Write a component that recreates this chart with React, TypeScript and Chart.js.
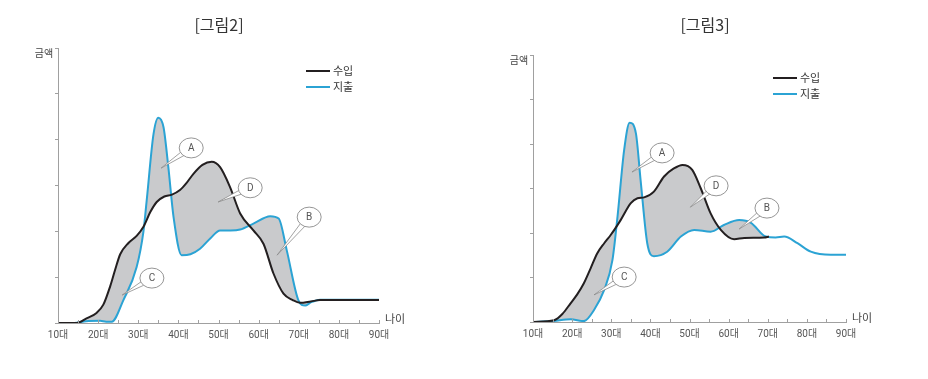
import { useEffect, useRef } from "react";
import { Chart, registerables } from "chart.js";

Chart.register(...registerables);

// ---------- data ----------
const AGE_MIN = 10;
const AGE_MAX = 90;
const AGE_TICK_STEP = 5;
const AMOUNT_MAX = 6;

const SERIES_LABELS = ["수입", "지출"];
const FIG_TITLES = ["[그림2]", "[그림3]"];
const AXIS_Y_TITLE = "금액";
const AXIS_X_TITLE = "나이";

// [그림2]
const FIG2_INCOME_AGES = [10, 14.6, 17.1, 19.6, 21.3, 23, 24.2, 25.5, 27.5, 29.6, 31.3, 33, 34.6, 36.5, 38.4, 40.4, 42, 43.7, 46, 48.3, 50.4, 52.9, 55.4, 58.7, 61.2, 63.7, 66.2, 68.5, 70.3, 73, 75.3, 80, 90];
const FIG2_INCOME = [0, 0, 0.1, 0.22, 0.4, 0.8, 1.15, 1.5, 1.74, 1.9, 2.1, 2.42, 2.64, 2.76, 2.8, 2.9, 3.05, 3.25, 3.45, 3.52, 3.4, 2.96, 2.39, 2.02, 1.73, 1.08, 0.64, 0.5, 0.44, 0.47, 0.5, 0.5, 0.5];
const FIG2_EXPENSE_AGES = [10, 14, 17, 20.5, 22, 23.4, 26.3, 29.6, 31.3, 32.1, 33.8, 35, 36.3, 37.5, 38.8, 40.8, 43, 45.4, 48, 50.4, 53, 55.4, 58.7, 62.9, 65, 67, 69.9, 71.6, 73, 75.3, 80, 90];
const FIG2_EXPENSE = [0, 0, 0.04, 0.05, 0.03, 0.03, 0.5, 1.22, 2.0, 2.67, 4.12, 4.48, 4.27, 3.4, 2.31, 1.48, 1.5, 1.62, 1.85, 2.02, 2.02, 2.04, 2.17, 2.33, 2.28, 1.59, 0.5, 0.38, 0.45, 0.51, 0.51, 0.51];

// [그림3]
const FIG3_INCOME_AGES = [10, 15.4, 17.5, 19.6, 21.3, 23, 24.7, 26.4, 28.2, 29.9, 32.4, 35, 36.7, 38.4, 40.9, 43.5, 46, 48.2, 50.7, 52.9, 55.4, 58, 61.4, 64, 69.1, 70.3];
const FIG3_INCOME = [0, 0.04, 0.18, 0.42, 0.62, 0.87, 1.2, 1.54, 1.77, 1.96, 2.29, 2.67, 2.78, 2.8, 2.93, 3.27, 3.45, 3.53, 3.42, 3.0, 2.44, 2.07, 1.86, 1.89, 1.9, 1.92];
const FIG3_EXPENSE_AGES = [10, 15, 19.6, 23, 25.6, 28.2, 30.3, 31.6, 33.3, 34.7, 36.3, 37.5, 39.2, 40.9, 44.3, 47.8, 51.2, 55.4, 58.8, 62.7, 65.7, 69.5, 72, 74.2, 77.6, 81, 86.1, 90];
const FIG3_EXPENSE = [0, 0.02, 0.06, 0.02, 0.27, 0.72, 1.39, 2.37, 3.87, 4.48, 4.24, 3.19, 1.77, 1.48, 1.58, 1.92, 2.07, 2.03, 2.18, 2.29, 2.23, 1.92, 1.9, 1.92, 1.77, 1.58, 1.51, 1.51];

// callouts (data coordinates)
const CALLOUT_LETTERS = ["A", "D", "B", "C"];
const FIG2_CALLOUT_TIP_AGES = [35.7, 49.9, 64.6, 26];
const FIG2_CALLOUT_TIP_VALUES = [3.38, 2.64, 1.48, 0.61];
const FIG2_CALLOUT_BUBBLE_AGES = [43.2, 57.9, 72.6, 33.4];
const FIG2_CALLOUT_BUBBLE_VALUES = [3.82, 2.95, 2.31, 0.98];
const FIG3_CALLOUT_TIP_AGES = [35.3, 50.2, 62.7, 25.6];
const FIG3_CALLOUT_TIP_VALUES = [3.37, 2.58, 2.09, 0.61];
const FIG3_CALLOUT_BUBBLE_AGES = [43.0, 56.8, 69.8, 33.3];
const FIG3_CALLOUT_BUBBLE_VALUES = [3.8, 3.06, 2.56, 1.01];

// ---------- styles ----------
const INCOME_COLOR = "#231f20";
const EXPENSE_COLOR = "#2ba3d4";
const FILL_COLOR = "#c9cacc";
const AXIS_COLOR = "#a0a0a0";
const TEXT_COLOR = "#444";
const FONT = '"Roboto", "Noto Sans CJK KR", sans-serif';
const KFONT = '"Noto Sans CJK KR", "Roboto", sans-serif';

type Panel = {
  title: string;
  left: number;
  area: { left: number; right: number; top: number; bottom: number };
  titleX: number;
  incomeAges: number[];
  income: number[];
  expenseAges: number[];
  expense: number[];
  tipAges: number[];
  tipValues: number[];
  bubbleAges: number[];
  bubbleValues: number[];
};

const W = 464;
const H = 379;

const PANELS: Panel[] = [
  {
    title: FIG_TITLES[0],
    left: 0,
    area: { left: 58, right: 379, top: 48, bottom: 323 },
    titleX: 219,
    incomeAges: FIG2_INCOME_AGES,
    income: FIG2_INCOME,
    expenseAges: FIG2_EXPENSE_AGES,
    expense: FIG2_EXPENSE,
    tipAges: FIG2_CALLOUT_TIP_AGES,
    tipValues: FIG2_CALLOUT_TIP_VALUES,
    bubbleAges: FIG2_CALLOUT_BUBBLE_AGES,
    bubbleValues: FIG2_CALLOUT_BUBBLE_VALUES,
  },
  {
    title: FIG_TITLES[1],
    left: 464,
    area: { left: 69, right: 382, top: 55, bottom: 322 },
    titleX: 241,
    incomeAges: FIG3_INCOME_AGES,
    income: FIG3_INCOME,
    expenseAges: FIG3_EXPENSE_AGES,
    expense: FIG3_EXPENSE,
    tipAges: FIG3_CALLOUT_TIP_AGES,
    tipValues: FIG3_CALLOUT_TIP_VALUES,
    bubbleAges: FIG3_CALLOUT_BUBBLE_AGES,
    bubbleValues: FIG3_CALLOUT_BUBBLE_VALUES,
  },
];

function zip(xs: number[], ys: number[]) {
  return xs.map((x, i) => ({ x, y: ys[i] }));
}

function PanelChart({ p }: { p: Panel }) {
  const ref = useRef<HTMLCanvasElement | null>(null);

  useEffect(() => {
    const canvas = ref.current;
    if (!canvas) return;

    const decor = {
      id: "decor",
      afterDatasetsDraw(chart: any) {
        const { ctx, scales } = chart;
        const xs = scales.x;
        const ys = scales.y;
        ctx.save();
        for (let i = 0; i < CALLOUT_LETTERS.length; i++) {
          const tx = xs.getPixelForValue(p.tipAges[i]);
          const ty = ys.getPixelForValue(p.tipValues[i]);
          const bx = xs.getPixelForValue(p.bubbleAges[i]);
          const by = ys.getPixelForValue(p.bubbleValues[i]);
          const dx = tx - bx;
          const dy = ty - by;
          const len = Math.hypot(dx, dy) || 1;
          const nx = -dy / len;
          const ny = dx / len;
          const hw = 3.2;
          ctx.beginPath();
          ctx.moveTo(tx, ty);
          ctx.lineTo(bx + nx * hw, by + ny * hw);
          ctx.lineTo(bx - nx * hw, by - ny * hw);
          ctx.closePath();
          ctx.fillStyle = "#ffffff";
          ctx.fill();
          ctx.strokeStyle = "#8a8a8a";
          ctx.lineWidth = 0.8;
          ctx.stroke();
          ctx.beginPath();
          ctx.ellipse(bx, by, 12, 10, 0, 0, Math.PI * 2);
          ctx.fillStyle = "#ffffff";
          ctx.fill();
          ctx.strokeStyle = "#8a8a8a";
          ctx.lineWidth = 0.9;
          ctx.stroke();
          ctx.fillStyle = "#555";
          ctx.font = `10px ${FONT}`;
          ctx.textAlign = "center";
          ctx.textBaseline = "middle";
          ctx.fillText(CALLOUT_LETTERS[i], bx, by + 0.5);
        }
        ctx.restore();
      },
      afterDraw(chart: any) {
        const { ctx, chartArea: a, scales } = chart;
        const xs = scales.x;
        ctx.save();
        ctx.strokeStyle = AXIS_COLOR;
        ctx.lineWidth = 1;
        xs.ticks.forEach((t: any) => {
          const px = Math.round(xs.getPixelForValue(t.value)) + 0.5;
          ctx.beginPath();
          ctx.moveTo(px, a.bottom);
          ctx.lineTo(px, a.bottom - 3);
          ctx.stroke();
        });
        ctx.fillStyle = "#333";
        ctx.font = `16px ${KFONT}`;
        ctx.textAlign = "center";
        ctx.textBaseline = "middle";
        ctx.fillText(p.title, p.titleX, 25);
        ctx.fillStyle = TEXT_COLOR;
        ctx.font = `10px ${KFONT}`;
        ctx.textAlign = "center";
        ctx.fillText(AXIS_Y_TITLE, a.left - 14, a.top + 5);
        ctx.font = `11px ${KFONT}`;
        ctx.fillText(AXIS_X_TITLE, a.right + 16, a.bottom - 4);
        const ds = chart.data.datasets;
        ds.forEach((d: any, i: number) => {
          const ly = a.top + 23 + i * 16;
          const lx = a.right - 73;
          ctx.strokeStyle = d.borderColor;
          ctx.lineWidth = 2;
          ctx.beginPath();
          ctx.moveTo(lx, ly);
          ctx.lineTo(lx + 24, ly);
          ctx.stroke();
          ctx.fillStyle = "#333";
          ctx.font = `11px ${KFONT}`;
          ctx.textAlign = "left";
          ctx.fillText(d.label, lx + 27, ly);
        });
        ctx.restore();
      },
    };

    const chart = new Chart(canvas, {
      type: "line",
      data: {
        datasets: [
          {
            label: SERIES_LABELS[0],
            data: zip(p.incomeAges, p.income),
            borderColor: INCOME_COLOR,
            borderWidth: 2,
            pointRadius: 0,
            cubicInterpolationMode: "monotone",
            fill: { target: 1 },
            backgroundColor: FILL_COLOR,
          },
          {
            label: SERIES_LABELS[1],
            data: zip(p.expenseAges, p.expense),
            borderColor: EXPENSE_COLOR,
            borderWidth: 2,
            pointRadius: 0,
            cubicInterpolationMode: "monotone",
            fill: false,
          },
        ],
      },
      options: {
        animation: false,
        responsive: false,
        maintainAspectRatio: false,
        layout: {
          padding: { left: 0, top: p.area.top, right: W - p.area.right, bottom: 0 },
        },
        plugins: {
          legend: { display: false },
          title: { display: false },
          tooltip: { enabled: false },
          filler: { drawTime: "beforeDatasetsDraw" },
        } as any,
        scales: {
          x: {
            type: "linear",
            min: AGE_MIN,
            max: AGE_MAX,
            afterFit: (s: any) => {
              s.height = H - p.area.bottom;
            },
            ticks: {
              stepSize: AGE_TICK_STEP,
              autoSkip: false,
              maxRotation: 0,
              padding: 6,
              color: "#555",
              font: { size: 10, family: FONT },
              callback: (v: any) => (Number(v) % 10 === 0 ? `${v}대` : ""),
            },
            grid: { drawOnChartArea: false, drawTicks: false },
            border: { display: true, color: AXIS_COLOR, width: 1 },
          },
          y: {
            type: "linear",
            min: 0,
            max: AMOUNT_MAX,
            afterFit: (s: any) => {
              s.width = p.area.left;
            },
            ticks: { stepSize: 1, display: false },
            grid: { drawOnChartArea: false, drawTicks: true, tickLength: 3, color: AXIS_COLOR },
            border: { display: true, color: AXIS_COLOR, width: 1 },
          },
        },
      } as any,
      plugins: [decor],
    });

    return () => chart.destroy();
  }, [p]);

  return (
    <canvas
      ref={ref}
      width={W}
      height={H}
      style={{ position: "absolute", left: p.left, top: 0, width: W, height: H }}
    />
  );
}

export default function App() {
  return (
    <div style={{ position: "absolute", left: 0, top: 0, width: 928, height: 379, background: "#fff" }}>
      {PANELS.map((p, i) => (
        <PanelChart key={i} p={p} />
      ))}
    </div>
  );
}
